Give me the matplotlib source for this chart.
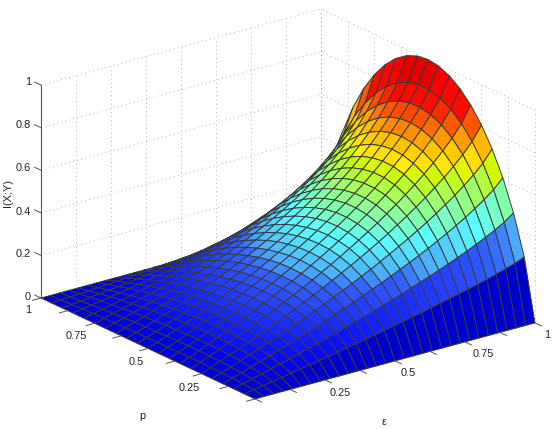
import matplotlib
matplotlib.use("Agg")
import matplotlib.pyplot as plt
from matplotlib.colors import LinearSegmentedColormap
import numpy as np

# grid, 30 cells along eps and 20 along p
eps = np.arange(31) / 30
p = np.arange(21) / 20

# surface heights in thousandths, one row per p value
z_p000 = [0] * 31
z_p005 = [0,7,15,22,29,37,45,52,60,68,76,85,93,101,110,119,128,137,146,155,165,175,185,195,206,217,229,241,254,269,286]
z_p010 = [0,11,22,34,46,57,69,81,94,106,119,132,145,159,172,186,201,215,230,246,262,278,295,312,330,349,369,390,412,437,469]
z_p015 = [0,14,28,42,56,71,86,101,117,133,149,165,182,199,216,234,253,271,291,311,331,352,374,397,421,446,472,501,531,566,610]
z_p020 = [0,16,31,48,64,81,98,115,133,151,170,189,208,228,248,269,290,312,335,359,383,408,434,461,490,520,552,586,624,666,722]
z_p025 = [0,17,34,51,69,87,106,125,144,164,184,205,226,248,271,294,317,342,367,393,420,449,478,509,541,576,612,652,695,745,811]
z_p030 = [0,18,35,54,72,91,111,131,151,172,194,215,238,261,285,310,335,362,389,417,446,477,509,543,578,616,657,701,749,805,881]
z_p035 = [0,18,36,55,74,93,113,134,155,176,198,221,244,268,293,319,346,373,402,431,462,495,529,565,603,643,687,735,788,849,934]
z_p040 = [0,18,36,55,74,93,113,134,155,177,199,222,246,270,296,322,349,377,407,437,469,503,538,576,616,658,704,755,812,878,971]
z_p045 = [0,17,35,54,73,92,112,132,153,174,197,220,243,268,293,319,346,375,405,436,468,502,538,577,618,662,710,763,822,893,993]
z_p050 = [0,17,34,52,70,89,108,128,148,169,191,213,236,260,285,311,338,366,396,427,459,493,530,568,610,655,704,758,820,894,1000]
z_p055 = [0,16,32,49,67,84,103,122,141,161,182,204,226,249,273,299,325,352,381,411,443,477,513,551,593,637,687,742,805,881,993]
z_p060 = [0,15,30,46,62,79,96,114,132,151,171,191,212,234,257,281,306,333,360,389,420,453,488,525,566,610,659,714,778,855,971]
z_p065 = [0,14,28,42,57,72,88,105,121,139,157,176,196,216,237,260,283,308,334,361,390,421,455,491,530,572,620,674,737,815,934]
z_p070 = [0,12,25,38,51,65,79,94,109,125,141,158,176,194,214,234,255,278,302,327,354,383,414,447,484,525,570,622,684,760,881]
z_p075 = [0,11,21,33,44,56,68,81,94,108,123,137,153,169,186,204,223,243,265,287,311,337,365,396,430,467,509,558,616,690,811]
z_p080 = [0,9,18,27,37,46,57,67,78,90,102,115,128,141,156,171,187,204,222,241,262,285,309,336,365,398,436,480,534,603,722]
z_p085 = [0,7,14,21,28,36,44,52,61,70,79,89,100,110,122,134,146,160,174,190,207,225,245,266,291,318,350,388,435,497,610]
z_p090 = [0,5,9,14,20,25,30,36,42,48,55,62,69,76,84,93,102,111,122,133,144,158,172,188,206,226,250,279,316,368,469]
z_p095 = [0,2,5,7,10,13,16,19,22,25,28,32,36,40,44,48,53,58,63,69,76,83,91,99,109,121,135,152,174,208,286]
z_p100 = [0] * 31

Z = np.array([z_p000, z_p005, z_p010, z_p015, z_p020, z_p025, z_p030, z_p035, z_p040, z_p045, z_p050,
              z_p055, z_p060, z_p065, z_p070, z_p075, z_p080, z_p085, z_p090, z_p095, z_p100]) / 1000
E, P = np.meshgrid(eps, p)

# colours sampled from the facets, by height
anchors = [(0, (0, 0, 205)), (.04, (0, 0, 235)), (.1, (15, 25, 255)), (.2, (40, 70, 255)), (.25, (50, 100, 255)),
           (.286, (75, 170, 255)), (.35, (85, 225, 255)), (.39, (90, 255, 255)), (.437, (120, 255, 200)),
           (.469, (130, 255, 170)), (.55, (170, 255, 80)), (.61, (205, 250, 0)), (.64, (255, 240, 0)),
           (.66, (255, 225, 0)), (.722, (255, 185, 0)), (.78, (255, 115, 0)), (.811, (255, 85, 0)),
           (.88, (255, 10, 0)), (.97, (255, 0, 0)), (1, (225, 0, 0))]
cmap = LinearSegmentedColormap.from_list('ref', [(a, (c[0] / 255, c[1] / 255, c[2] / 255)) for a, c in anchors], N=256)

plt.rcParams['font.family'] = ['Liberation Sans', 'DejaVu Sans']
W, HH = 554, 429
fig = plt.figure(figsize=(5.54, 4.29), dpi=100)
ax = fig.add_axes([14.6 / W, -48.4 / HH, 532.4 / W, 532.4 / HH], projection='3d', computed_zorder=False)
ax.set_proj_type('ortho')
ax.set_box_aspect((351.4, 354, 228))
ax.view_init(elev=20.97, azim=232.8)
ax.set_xlim(0, 1)
ax.set_ylim(0, 1)
ax.set_zlim(0, 1)
ax.set_axis_off()

ticks = np.arange(0, 1.01, 0.125)
zt = np.arange(0, 1.01, 0.2)
gs = dict(color='#999999', lw=0.6, ls=(0, (1, 4)), zorder=1)
for t in ticks:
    ax.plot([t, t], [1, 1], [0, 1], **gs)
    ax.plot([1, 1], [t, t], [0, 1], **gs)
for z in zt:
    ax.plot([0, 1], [1, 1], [z, z], **gs)
    ax.plot([1, 1], [0, 1], [z, z], **gs)

# each facet takes the colour of its corner at the higher eps
C = np.hstack((Z[:, 1:], Z[:, -1:]))
ax.plot_surface(E, P, Z, rstride=1, cstride=1, facecolors=cmap(C),
                edgecolor='#3a3a3a', linewidth=0.7, shade=False, zorder=2)

ac = '#555555'
ax.plot([0, 0], [1, 1], [0, 1], color=ac, lw=0.8, zorder=3)
for z in zt:
    ax.plot([0, 0], [1, 1.03], [z, z], color=ac, lw=0.7, zorder=3)
for t in ticks:
    ax.plot([0, -0.03], [t, t], [0, 0], color=ac, lw=0.7, zorder=3)
    ax.plot([t, t], [0, -0.03], [0, 0], color=ac, lw=0.7, zorder=3)

def lab(x, y, s, **kw):
    kw.setdefault('ha', 'center')
    fig.text(x / W, 1 - y / HH, s, va='center', fontsize=7.9, color='#222222', **kw)

for s, y in zip(['1', '0.8', '0.6', '0.4', '0.2', '0'], [82, 125, 168, 212, 254, 297]):
    lab(31, y, s, ha='right')
for s, x, y in [('1', 28, 310), ('0.75', 76, 336), ('0.5', 136, 362), ('0.25', 189, 388),
                ('0.25', 340, 393), ('0.5', 408, 373), ('0.75', 483, 354), ('1', 547, 335),
                ('p', 142, 416), ('ε', 384, 422)]:
    lab(x, y, s)
lab(8, 193, 'I(X;Y)', rotation=90)
fig.savefig('out.png', dpi=100)
